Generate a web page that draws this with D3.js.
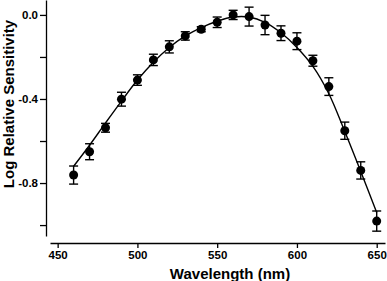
<!DOCTYPE html>
<html>
<head>
<meta charset="utf-8">
<script src="https://cdn.jsdelivr.net/npm/d3@7"></script>
<style>
body{margin:0;background:#fff}
text{font-family:Arial,"Liberation Sans",sans-serif;font-weight:bold;fill:#000}
</style>
</head>
<body>
<div id="grafica"></div>
<script>
// datos
var wavelength=[460,470,480,490,500,510,520,530,540,550,560,570,580,590,600,610,620,630,640,650]
var sensitivity=[-0.762,-0.651,-0.537,-0.401,-0.31,-0.214,-0.152,-0.1,-0.068,-0.035,0.0,-0.008,-0.048,-0.087,-0.125,-0.218,-0.341,-0.551,-0.74,-0.981]
var sem=[0.043,0.038,0.021,0.033,0.025,0.027,0.029,0.02,0.012,0.025,0.022,0.045,0.046,0.035,0.04,0.026,0.042,0.041,0.041,0.048]
var fitWavelength=[460,470,480,490,500,510,520,530,540,550,560,570,580,590,600,610,620,630,640,650]
var fitValues=[-0.72,-0.62,-0.514,-0.41,-0.31,-0.225,-0.155,-0.1,-0.06,-0.03,-0.01,-0.01,-0.035,-0.085,-0.155,-0.245,-0.375,-0.555,-0.745,-0.94]
var xTicks=[450,500,550,600,650]
var yTicks=[0,-0.2,-0.4,-0.6,-0.8,-1.0]
var yLabeled=[0,-0.4,-0.8]

var ancho=387, alto=281

var svg=d3.select("#grafica")
	.append("svg")
	.attr("width",ancho)
	.attr("height",alto)

var x=d3.scaleLinear().domain([445.2,655.2]).range([50,385])
var y=d3.scaleLinear().domain([-1.052,0.071]).range([236,0])

// ejes separados (estilo prism)
svg.append("g")
	.attr("transform","translate(0,243)")
	.call(d3.axisBottom(x).tickValues(xTicks).tickSize(5).tickSizeOuter(0).tickPadding(3))
	.call(g=>g.selectAll("text").style("font-size","11.5px"))
	.call(g=>g.selectAll("path,line").attr("stroke","#000").attr("stroke-width",1.3))

svg.append("g")
	.attr("transform","translate(46,0)")
	.call(d3.axisLeft(y).tickValues(yTicks).tickSize(6).tickSizeOuter(0).tickPadding(2)
		.tickFormat(d=>yLabeled.indexOf(d)>=0?d.toFixed(1):""))
	.call(g=>g.selectAll("text").style("font-size","11.5px"))
	.call(g=>g.selectAll("path,line").attr("stroke","#000").attr("stroke-width",1.3))

svg.append("text")
	.attr("x",230)
	.attr("y",279)
	.attr("text-anchor","middle")
	.style("font-size","15px")
	.text("Wavelength (nm)")

svg.append("text")
	.attr("transform","translate(13.5,104) rotate(-90)")
	.attr("text-anchor","middle")
	.style("font-size","15px")
	.text("Log Relative Sensitivity")

// curva ajustada
var fit=fitWavelength.map((w,i)=>({w:w,v:fitValues[i]}))
var line=d3.line()
	.x(d=>x(d.w))
	.y(d=>y(d.v))
	.curve(d3.curveCatmullRom)

svg.append("path")
	.datum(fit)
	.attr("d",line)
	.attr("fill","none")
	.attr("stroke","#000")
	.attr("stroke-width",1.4)

var puntos=wavelength.map((w,i)=>({w:w,v:sensitivity[i],e:sem[i]}))

// barras de error
var err=svg.selectAll("g.err")
	.data(puntos)
	.enter()
	.append("g")
	.attr("class","err")
	.attr("stroke","#000")
	.attr("stroke-width",1.4)
err.append("line")
	.attr("x1",d=>x(d.w)).attr("x2",d=>x(d.w))
	.attr("y1",d=>y(d.v+d.e)).attr("y2",d=>y(d.v-d.e))
err.append("line")
	.attr("x1",d=>x(d.w)-4.5).attr("x2",d=>x(d.w)+4.5)
	.attr("y1",d=>y(d.v+d.e)).attr("y2",d=>y(d.v+d.e))
err.append("line")
	.attr("x1",d=>x(d.w)-4.5).attr("x2",d=>x(d.w)+4.5)
	.attr("y1",d=>y(d.v-d.e)).attr("y2",d=>y(d.v-d.e))

svg.selectAll("circle.pt")
	.data(puntos)
	.enter()
	.append("circle")
	.attr("class","pt")
	.attr("cx",d=>x(d.w))
	.attr("cy",d=>y(d.v))
	.attr("r",4.5)
	.attr("fill","#000")
</script>
</body>
</html>
